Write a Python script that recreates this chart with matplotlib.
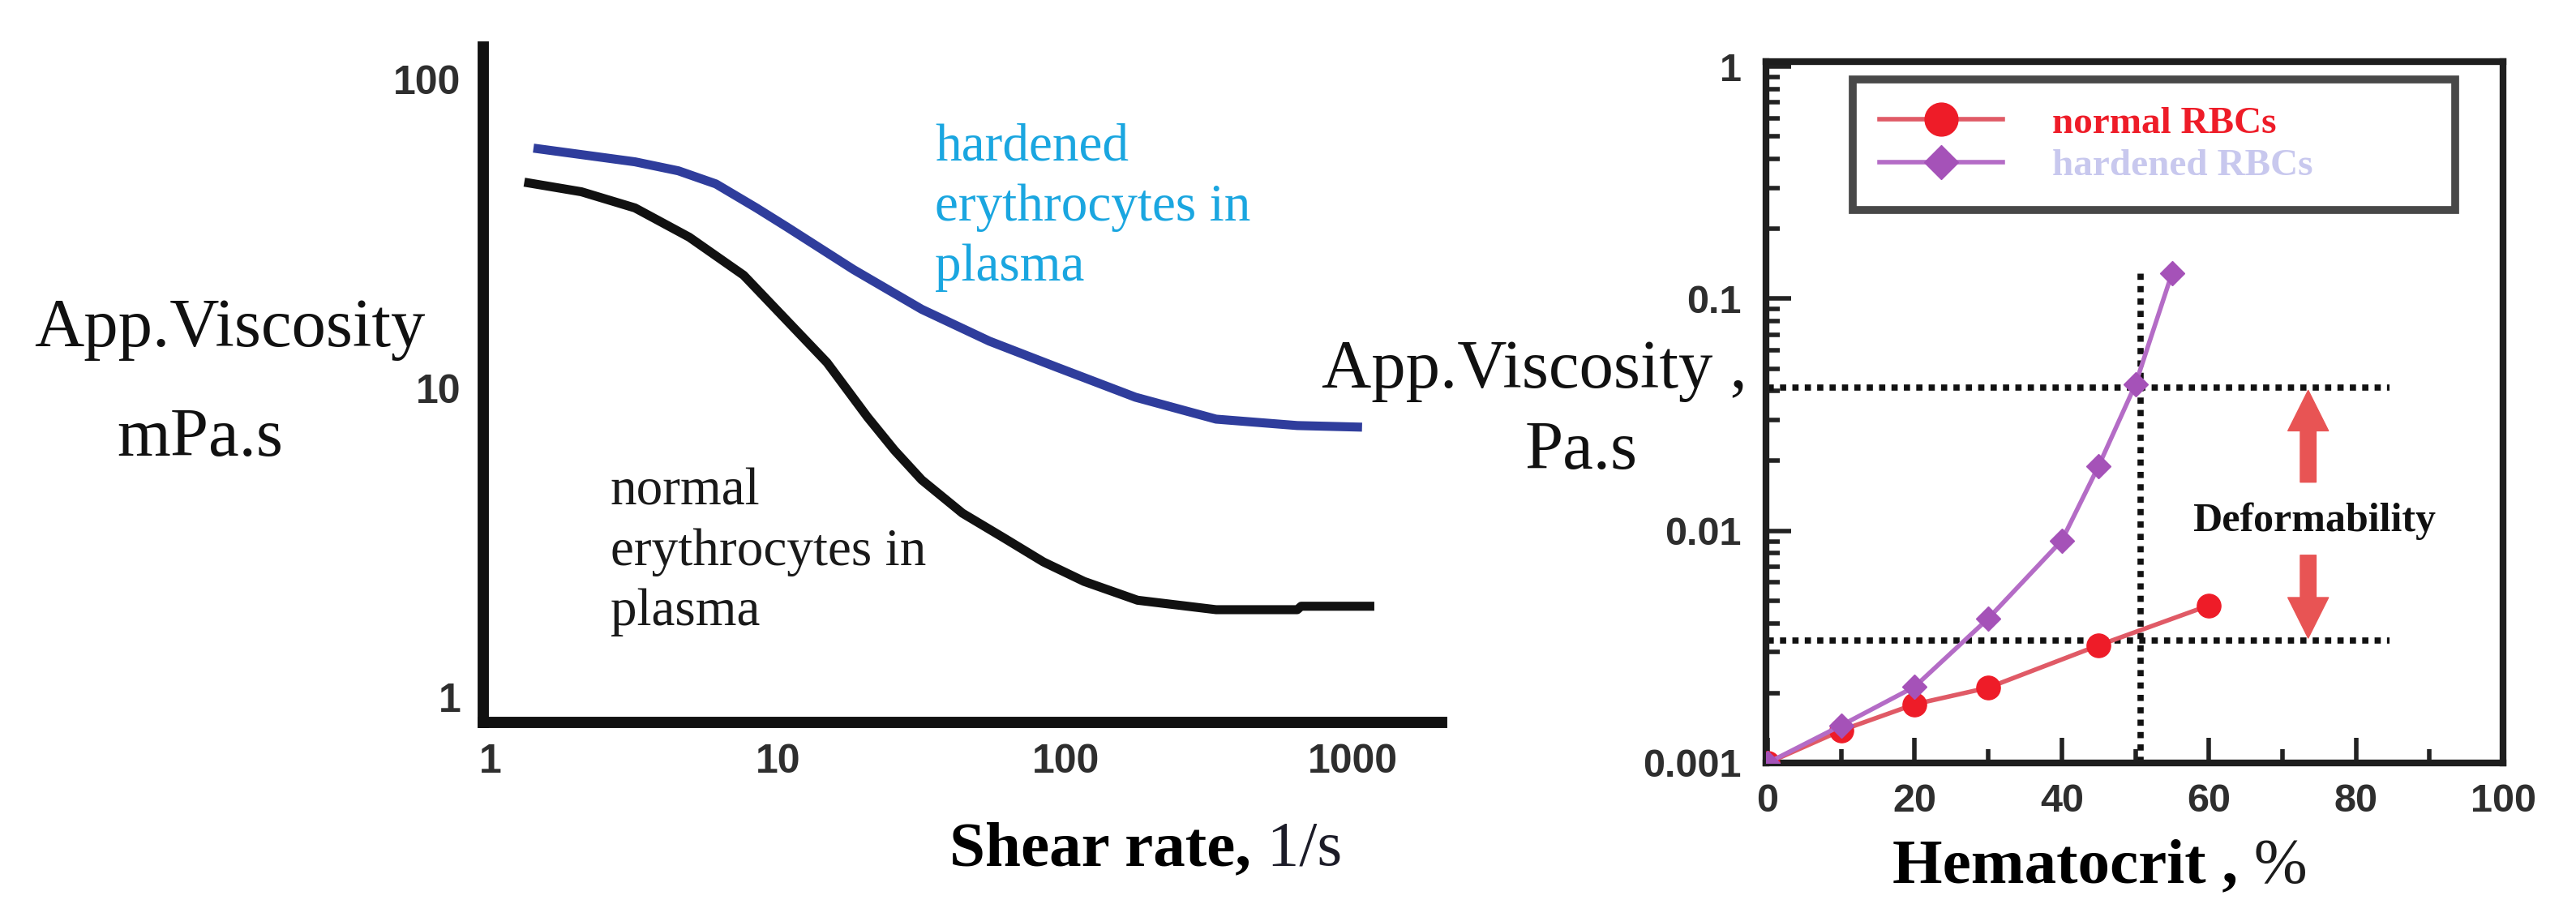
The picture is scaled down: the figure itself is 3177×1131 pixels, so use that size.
import numpy as np
import matplotlib.pyplot as plt
from matplotlib.ticker import NullFormatter, LogLocator, FixedLocator

# Left panel: apparent viscosity (mPa.s) vs shear rate (1/s)
hard_shear = [1.41, 3.18, 4.5, 6.08, 8.41, 10.7, 18.3, 31.6, 54.3, 93, 175, 334, 640, 1075]
hard_visc = [59.8, 54.0, 50.5, 45.8, 38.3, 33.3, 24.2, 18.0, 14.2, 11.7, 9.35, 7.94, 7.57, 7.48]

norm_shear = [1.31, 2.07, 3.18, 4.91, 7.59, 10.7, 14.8, 20.5, 25.4, 31.6, 43.8,
              60.6, 83.8, 116, 178, 334, 640, 660, 1186]
norm_visc = [46.4, 43.2, 38.3, 30.8, 23.2, 16.6, 12.1, 8.05, 6.3, 5.05, 3.94,
             3.29, 2.74, 2.37, 2.06, 1.92, 1.92, 1.97, 1.97]

# Right panel: apparent viscosity (Pa.s) vs hematocrit (%)
hct_normal = [0, 10, 20, 30, 45, 60]
visc_normal = [0.001, 0.00138, 0.00179, 0.00211, 0.00321, 0.00477]
hct_hard = [0, 10, 20, 30, 40, 45, 50, 55]
visc_hard = [0.001, 0.00145, 0.00213, 0.00419, 0.00908, 0.0190, 0.0426, 0.129]

# dotted guide lines and the deformability arrows
guide_levels = [0.0414, 0.00337]
guide_xmax = 84.6
guide_hct = 50.7
guide_ymax = 0.13
arrow_x = 73.5
arrow_up = (0.0162, 0.0403)
arrow_down = (0.00785, 0.00345)

serif = 'Liberation Serif'
sans = 'Liberation Sans'
tick_col = '#2e2e2e'

fig = plt.figure(figsize=(31.77, 11.31), dpi=100)

# ---------------- left panel ----------------
ax1 = fig.add_axes([0.1876, 0.2122, 0.3720, 0.7365])
ax1.plot(hard_shear, hard_visc, color='#2f3d9c', lw=8, solid_capstyle='butt')
ax1.plot(norm_shear, norm_visc, color='#111111', lw=8, solid_capstyle='butt')
ax1.set_xscale('log')
ax1.set_yscale('log')
ax1.set_xlim(0.943, 2032)
ax1.set_ylim(0.829, 127)
for s in ['top', 'right']:
    ax1.spines[s].set_visible(False)
for s in ['left', 'bottom']:
    ax1.spines[s].set_linewidth(10)
    ax1.spines[s].set_color('#111111')
ax1.xaxis.set_major_locator(FixedLocator([1, 10, 100, 1000]))
ax1.yaxis.set_major_locator(FixedLocator([1, 10, 100]))
ax1.xaxis.set_minor_locator(FixedLocator([]))
ax1.yaxis.set_minor_locator(FixedLocator([]))
ax1.set_xticklabels(['1', '10', '100', '1000'])
ax1.set_yticklabels(['1', '10', '100'])
ax1.tick_params(axis='both', length=0, labelcolor=tick_col)
ax1.tick_params(axis='y', pad=20)
ax1.tick_params(axis='x', pad=19)
for lab in ax1.get_xticklabels() + ax1.get_yticklabels():
    lab.set_fontfamily(sans)
    lab.set_fontweight('bold')
    lab.set_fontsize(36)

ax1.text(35.1, 72.1, 'hardened\nerythrocytes in\nplasma', color='#1aa6e0',
         fontsize=47, family=serif, va='top', ha='left', linespacing=1.33)
ax1.text(2.61, 5.53, 'normal\nerythrocytes in\nplasma', color='#1a1a1a',
         fontsize=47, family=serif, va='top', ha='left', linespacing=1.33)

fig.text(42 / 3177, 1 - 427 / 1131, 'App.Viscosity', family=serif, fontsize=61,
         va='baseline', ha='left', color='#111111')
fig.text(247 / 3177, 1 - 562 / 1131, 'mPa.s', family=serif, fontsize=61,
         va='baseline', ha='center', color='#111111')

t1 = fig.text(1171 / 3177, 1 - 1067 / 1131, 'Shear rate,', family=serif,
              fontsize=57, fontweight='bold', va='baseline', ha='left')
ax1.annotate(' 1/s', xy=(1, 0), xycoords=t1, va='bottom', ha='left',
             family=serif, fontsize=57, color='#1c1c28', annotation_clip=False)

# ---------------- right panel ----------------
ax2 = fig.add_axes([0.6856, 0.1680, 0.2861, 0.7648])
ax2.set_yscale('log')
ax2.set_xlim(-0.2, 100)
ax2.set_ylim(0.001, 1.05)

for lev in guide_levels:
    ax2.plot([0, guide_xmax], [lev, lev], color='#111111', lw=5.5,
             dashes=(1, 1.0), zorder=2)
ax2.plot([guide_hct, guide_hct], [0.001, guide_ymax], color='#111111', lw=5.5,
         dashes=(1, 1.0), zorder=2)

ax2.plot(hct_normal, visc_normal, color='#e05a66', lw=4, marker='o', ms=21,
         mfc='#ee1c28', mec='#ee1c28', label='normal RBCs', zorder=3)
ax2.plot(hct_hard, visc_hard, color='#b46cc6', lw=4, marker='D', ms=15,
         mfc='#a552b8', mec='#a552b8', label='hardened RBCs', zorder=4)

for (y0, y1) in [arrow_up, arrow_down]:
    ax2.annotate('', xy=(arrow_x, y1), xytext=(arrow_x, y0),
                 arrowprops=dict(arrowstyle='simple,head_length=3.6,head_width=3.6,tail_width=1.4',
                                 mutation_scale=10, color='#e85454', shrinkA=0, shrinkB=0))
ax2.text(74.3, 0.011, 'Deformability', family=serif, fontweight='bold',
         fontsize=36, ha='center', va='center', color='#111111')

for s in ax2.spines.values():
    s.set_linewidth(6)
    s.set_color('#1e1e1e')
ax2.xaxis.set_major_locator(FixedLocator([0, 20, 40, 60, 80, 100]))
ax2.xaxis.set_minor_locator(FixedLocator([10, 30, 50, 70, 90]))
ax2.yaxis.set_major_locator(LogLocator(base=10, numticks=10))
ax2.yaxis.set_minor_locator(LogLocator(base=10, subs=np.arange(2, 10), numticks=10))
ax2.yaxis.set_minor_formatter(NullFormatter())
ax2.set_yticks([0.001, 0.01, 0.1, 1])
ax2.set_yticklabels(['0.001', '0.01', '0.1', '1'])
ax2.tick_params(axis='both', which='both', direction='in', top=False, right=False,
                color='#222222', labelcolor=tick_col)
ax2.tick_params(axis='both', which='major', length=22, width=4)
ax2.tick_params(axis='both', which='minor', length=12, width=4)
ax2.tick_params(axis='y', which='major', pad=22)
ax2.tick_params(axis='x', which='major', pad=18)
for lab in ax2.get_xticklabels() + ax2.get_yticklabels():
    lab.set_fontfamily(sans)
    lab.set_fontweight('bold')
    lab.set_fontsize(35)

leg = ax2.legend(loc='upper left', bbox_to_anchor=(0.118, 0.788, 0.817, 0.187),
                 mode='expand', borderaxespad=0, frameon=True, fancybox=False,
                 prop={'family': serif, 'weight': 'bold', 'size': 34},
                 handlelength=3.2, handletextpad=1.3, labelspacing=0.2,
                 borderpad=0.7, markerscale=1.4)
leg.get_frame().set_edgecolor('#1a1a1a')
leg.get_frame().set_linewidth(7)
leg.get_texts()[0].set_color('#ee1c28')
leg.get_texts()[1].set_color('#c8c8ee')

fig.text(1630 / 3177, 1 - 478 / 1131, 'App.Viscosity ,', family=serif, fontsize=61,
         va='baseline', ha='left', color='#111111')
fig.text(1950 / 3177, 1 - 578 / 1131, 'Pa.s', family=serif, fontsize=61,
         va='baseline', ha='center', color='#111111')

t2 = fig.text(2334 / 3177, 1 - 1088 / 1131, 'Hematocrit ,', family=serif,
              fontsize=57, fontweight='bold', va='baseline', ha='left')
ax2.annotate(' %', xy=(1, 0), xycoords=t2, va='bottom', ha='left',
             family=serif, fontsize=57, color='#1c1c1c', annotation_clip=False)

fig.savefig('out.png', dpi=100)
